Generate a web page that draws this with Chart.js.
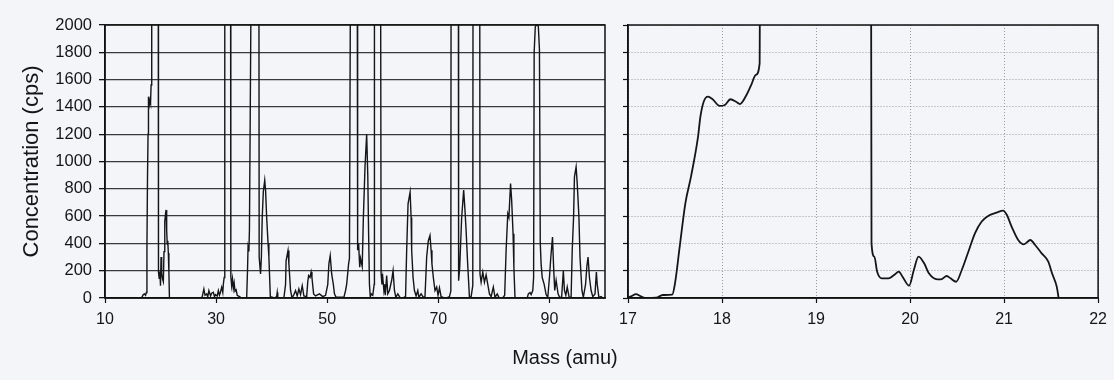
<!DOCTYPE html>
<html><head><meta charset="utf-8">
<script src="https://cdn.jsdelivr.net/npm/chart.js@4.4.1/dist/chart.umd.min.js"></script>
<style>
html,body{margin:0;padding:0;background:#f3f5f9;}
#wrap{position:relative;width:1114px;height:380px;overflow:hidden;background:#f3f5f9;}
canvas{position:absolute;top:0;}
#c1{left:0;} #c2{left:612px;}
#xt{position:absolute;left:465px;width:200px;top:346px;text-align:center;font:20px "Liberation Sans",Arial,sans-serif;color:#151515;white-space:nowrap;}
</style></head><body>
<div id="wrap">
<canvas id="c1" width="612" height="380"></canvas>
<canvas id="c2" width="502" height="380"></canvas>
<div id="xt"></div>
</div>
<script>
// ---- data (mass in amu, concentration in cps; values >2000 are off-scale) ----
const xTitle = 'Mass (amu)';
const yTitle = 'Concentration (cps)';
const concTicks = [0,200,400,600,800,1000,1200,1400,1600,1800,2000];
const leftMassTicks = [10,30,50,70,90];
const zoomMassTicks = [17,18,19,20,21,22];

// full spectrum 10-100 amu: [mass, cps]
const leftSpectrum = [
[10,0],[16.5,0],[16.7,10],[16.9,25],[17.1,30],[17.3,20],[17.45,40],[17.55,380],[17.65,880],[17.75,1200],
[17.8,1440],[17.85,1475],[17.95,1410],[18.1,1450],[18.2,1430],[18.3,1560],[18.4,1720],[18.42,2600],[19.58,2600],
[19.6,400],[19.65,190],[19.75,145],[19.88,195],[19.99,90],[20.09,300],[20.2,180],[20.35,140],[20.5,120],
[20.62,340],[20.76,560],[20.92,625],[21.0,645],[21.1,500],[21.2,395],[21.3,420],[21.4,330],[21.5,190],[21.6,0],
[27.4,0],[27.5,10],[27.8,66],[28.0,20],[28.3,30],[28.5,10],[28.7,54],[29.0,15],[29.2,35],[29.5,42],[29.7,10],
[29.9,25],[30.2,15],[30.4,54],[30.6,20],[30.7,30],[31.0,78],[31.2,40],[31.3,100],[31.45,150],[31.56,2600],[32.6,2600],
[32.65,160],[32.8,90],[32.95,140],[33.1,70],[33.25,110],[33.4,50],[33.6,60],[33.8,20],[34.2,10],[34.6,0],
[35.5,0],[35.65,200],[35.75,372],[35.9,340],[36.0,500],[36.35,2600],[37.7,2600],[37.75,300],[38.0,176],[38.15,300],
[38.3,590],[38.5,780],[38.75,862],[38.9,790],[39.1,590],[39.35,400],[39.5,300],[39.76,10],[40.5,0],[40.9,10],
[41.0,40],[41.1,0],[42.2,0],[42.5,100],[42.6,275],[42.94,348],[43.1,250],[43.4,55],[43.66,0],[44.0,25],[44.3,55],
[44.6,15],[44.9,66],[45.2,25],[45.5,90],[45.8,15],[46.3,10],[46.5,120],[46.65,164],[46.9,150],[47.1,190],[47.25,150],
[47.55,30],[47.9,15],[48.6,30],[49.2,10],[49.7,20],[50.1,100],[50.3,250],[50.54,311],[50.8,176],[51.1,100],[51.3,30],
[51.6,5],[53.0,5],[53.3,55],[53.5,100],[53.85,250],[54.0,290],[54.2,2600],[55.4,2600],[55.45,640],[55.5,350],
[55.65,400],[55.85,225],[56.0,290],[56.3,230],[56.5,580],[56.8,960],[57.1,1200],[57.3,900],[57.45,470],[57.6,100],
[57.75,10],[57.95,30],[58.2,20],[58.45,100],[58.5,2600],[59.6,2600],[59.7,176],[59.85,100],[60.0,150],[60.2,55],
[60.35,100],[60.45,20],[60.7,164],[60.9,30],[61.2,55],[61.6,130],[61.85,200],[62.1,55],[62.35,5],[62.7,30],[63.1,5],
[63.6,0],[64.1,10],[64.3,350],[64.55,690],[64.92,776],[65.1,590],[65.2,350],[65.45,150],[65.7,55],[66.0,15],[66.3,55],
[66.5,5],[66.9,30],[67.3,5],[67.6,10],[67.9,300],[68.2,420],[68.5,458],[68.7,350],[68.85,250],[69.1,150],[69.4,55],
[69.7,80],[69.95,20],[70.2,75],[70.5,10],[70.9,5],[71.5,0],[72.0,10],[72.25,50],[72.3,2600],[73.6,2600],[73.65,127],
[73.85,225],[74.2,590],[74.56,790],[74.8,640],[75.0,495],[75.25,275],[75.6,5],[75.9,10],[76.2,90],[76.25,2600],
[77.45,2600],[77.5,176],[77.7,115],[78.0,190],[78.3,115],[78.6,170],[78.9,100],[79.2,30],[79.5,10],[79.9,80],[80.2,5],
[80.6,30],[80.9,5],[81.6,0],[81.94,20],[82.2,350],[82.5,617],[82.7,590],[83.0,838],[83.2,715],[83.45,470],[83.6,225],
[83.8,0],[86.0,0],[86.2,30],[86.5,40],[86.7,25],[87.0,55],[87.15,150],[87.25,1800],[87.45,1985],[87.75,2010],
[88.0,1990],[88.2,1820],[88.35,400],[88.5,250],[88.7,150],[89.05,100],[89.4,25],[89.7,5],[90.0,150],[90.25,300],
[90.55,446],[90.75,225],[90.95,55],[91.2,130],[91.55,30],[91.9,0],[92.2,10],[92.5,200],[92.7,55],[92.95,20],[93.2,80],
[93.55,5],[93.9,5],[94.1,350],[94.35,600],[94.5,887],[94.8,960],[95.0,840],[95.3,600],[95.5,300],[95.85,55],[96.1,5],
[96.5,100],[96.75,238],[96.95,300],[97.2,150],[97.5,55],[97.8,10],[98.2,30],[98.45,190],[98.6,100],[98.9,5],[99.3,10],[99.6,0]
];

// expanded view 17-22 amu: [mass, cps]
const zoomSpectrum = [
[17.0,2],[17.04,15],[17.085,29],[17.13,15],[17.18,0],[17.3,2],[17.37,22],[17.47,24],[17.5,107],[17.55,376],
[17.61,694],[17.67,889],[17.745,1182],[17.77,1328],[17.805,1438],[17.85,1475],[17.9,1456],[17.975,1407],[18.03,1414],
[18.09,1456],[18.15,1438],[18.19,1421],[18.26,1487],[18.31,1560],[18.36,1634],[18.4,1719],[18.405,2600],[19.585,2600],
[19.59,400],[19.62,303],[19.65,193],[19.7,144],[19.77,144],[19.83,168],[19.88,193],[19.92,156],[19.99,90],[20.04,205],
[20.09,303],[20.15,254],[20.2,181],[20.29,137],[20.33,137],[20.39,161],[20.43,144],[20.49,119],[20.55,205],[20.62,339],
[20.69,474],[20.76,559],[20.83,601],[20.92,625],[20.99,640],[21.03,608],[21.08,523],[21.15,425],[21.21,393],[21.28,425],
[21.33,388],[21.4,327],[21.47,266],[21.51,181],[21.56,83],[21.58,0]
];

// ---- charts ----
const FONT = '"Liberation Sans", Arial, Helvetica, sans-serif';
Chart.defaults.font.family = FONT;
Chart.defaults.color = '#151515';
document.getElementById('xt').textContent = xTitle;

const framePlugin = {
  id: 'frame',
  afterDraw(chart) {
    const {ctx, chartArea: a} = chart;
    ctx.save();
    ctx.strokeStyle = '#111';
    ctx.lineWidth = 1.5;
    ctx.setLineDash([]);
    ctx.strokeRect(a.left, a.top, a.right - a.left, a.bottom - a.top);
    ctx.restore();
  }
};
const toPts = arr => arr.map(p => ({x: p[0], y: p[1]}));
const setTicks = list => s => { s.ticks = list.map(v => ({value: v})); };
const plain = v => String(v);

new Chart(document.getElementById('c1'), {
  type: 'line',
  data: {datasets: [{data: toPts(leftSpectrum), borderColor: '#151515', borderWidth: 1.4,
    pointRadius: 0, tension: 0, fill: false}]},
  options: {
    responsive: false, animation: false, devicePixelRatio: 1,
    layout: {padding: {left: 0, right: 7, top: 25, bottom: 42}},
    plugins: {legend: {display: false}, tooltip: {enabled: false}},
    scales: {
      x: {type: 'linear', min: 10, max: 100,
        afterBuildTicks: setTicks(leftMassTicks),
        afterFit: s => { s.height = 40; },
        grid: {display: true, drawOnChartArea: false, drawTicks: true, tickLength: 5, tickColor: '#111', tickWidth: 1.2},
        border: {display: true, color: '#111', width: 1.5},
        ticks: {font: {size: 16}, padding: 7, maxRotation: 0, autoSkip: false, color: '#151515', callback: plain}},
      y: {type: 'linear', min: 0, max: 2000,
        afterBuildTicks: setTicks(concTicks),
        afterFit: s => { s.width = 105; },
        grid: {color: '#3a3a3a', lineWidth: 1.3, tickLength: 6, tickColor: '#111'},
        border: {display: true, color: '#111', width: 1.5},
        ticks: {font: {size: 16.5}, padding: 7, color: '#151515', callback: plain},
        title: {display: true, text: yTitle, font: {size: 22}, padding: {top: 19, bottom: 0}, color: '#151515'}}
    }
  },
  plugins: [framePlugin]
});

new Chart(document.getElementById('c2'), {
  type: 'line',
  data: {datasets: [{data: toPts(zoomSpectrum), borderColor: '#151515', borderWidth: 1.8,
    pointRadius: 0, cubicInterpolationMode: 'monotone', fill: false}]},
  options: {
    responsive: false, animation: false, devicePixelRatio: 1,
    layout: {padding: {left: 0, right: 14, top: 25, bottom: 42}},
    plugins: {legend: {display: false}, tooltip: {enabled: false}},
    scales: {
      x: {type: 'linear', min: 17, max: 22,
        afterBuildTicks: setTicks(zoomMassTicks),
        afterFit: s => { s.height = 40; },
        grid: {color: '#9a9a9a', lineWidth: 1, tickLength: 5, tickColor: '#111', tickWidth: 1.2},
        border: {display: true, color: '#111', width: 1.5, dash: [1, 2]},
        ticks: {font: {size: 16}, padding: 7, maxRotation: 0, autoSkip: false, color: '#151515', callback: plain}},
      y: {type: 'linear', min: 0, max: 2000,
        afterBuildTicks: setTicks(concTicks),
        afterFit: s => { s.width = 16; },
        grid: {color: '#9a9a9a', lineWidth: 1, tickLength: 5, tickColor: '#111', tickWidth: 1.2},
        border: {display: true, color: '#111', width: 1.5, dash: [1, 2]},
        ticks: {display: false}}
    }
  },
  plugins: [framePlugin]
});
</script>
</body></html>
